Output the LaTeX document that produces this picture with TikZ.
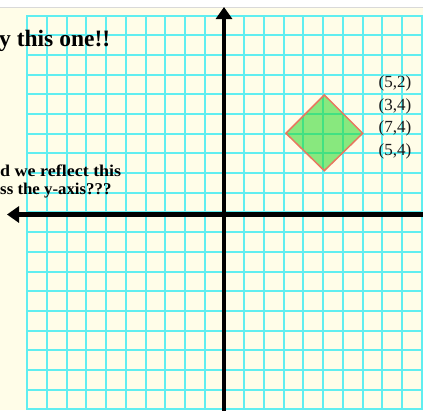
\documentclass[tikz,border=0pt]{standalone}
\usepackage{fontspec}
\setmainfont{Liberation Serif}
\usetikzlibrary{arrows.meta}
\definecolor{cream}{RGB}{255,253,232}
\definecolor{gridc}{RGB}{96,238,240}
\definecolor{shapefill}{RGB}{40,215,40}
\definecolor{shapeedge}{RGB}{232,120,95}
\tikzset{
  gridline/.style={draw=gridc, line width=1.2pt},
  axisline/.style={line width=4.8pt, black, -{Triangle[length=12pt,width=16pt]}},
  lbl/.style={font=\fontsize{17}{19}\selectfont, inner sep=0pt, text=black!90},
  remark/.style={font=\bfseries\fontsize{16.5}{18}\selectfont, inner sep=0pt, anchor=base west},
}
\begin{document}
\begin{tikzpicture}[x=1pt,y=-1pt]
\useasboundingbox (0,0) rectangle (423,410);
\fill[cream] (0,0) rectangle (423,410);
\fill[white] (0,0) rectangle (423,7);
\draw[black!15, line width=0.8pt] (0,7) -- (423,7);
% grid
\foreach \k in {0,...,20} {
  \pgfmathsetmacro\gx{round(27.3+\k*19.72)}
  \pgfmathsetmacro\gy{round(15.7+\k*19.68)}
  \draw[gridline] (\gx,15.4) -- (\gx,410);
  \draw[gridline] (26.4,\gy) -- (423,\gy);
}
% axes
\coordinate (yb) at (224,416);
\coordinate (yt) at (224,7);
\coordinate (xr) at (430,214.5);
\coordinate (xl) at (7,214.5);
\draw[axisline] (yb) -- (yt);
\draw[axisline] (xr) -- (xl);
% diamond
\coordinate (dt) at (324.3,95);
\coordinate (dr) at (362.7,133.3);
\coordinate (db) at (324.3,170.7);
\coordinate (dl) at (286,133.3);
\filldraw[fill=shapefill, fill opacity=0.55, draw=shapeedge, line width=1.5pt, line join=miter]
  (dt) -- (dr) -- (db) -- (dl) -- cycle;
% labels
\node[lbl] (l1) at (395,83.5) {(5,2)};
\node[lbl] (l2) at (395,106) {(3,4)};
\node[lbl] (l3) at (395,128.5) {(7,4)};
\node[lbl] (l4) at (395,151) {(5,4)};
% texts
\node[remark, font=\bfseries\fontsize{23.5}{25}\selectfont] (t1) at (-1,46.7) {y this one!!};
\node[remark, xscale=1.09] (t2) at (0,176.3) {d we reflect this};
\node[remark, xscale=1.02] (t3) at (0,194.7) {ss the y-axis???};
\end{tikzpicture}
\end{document}
